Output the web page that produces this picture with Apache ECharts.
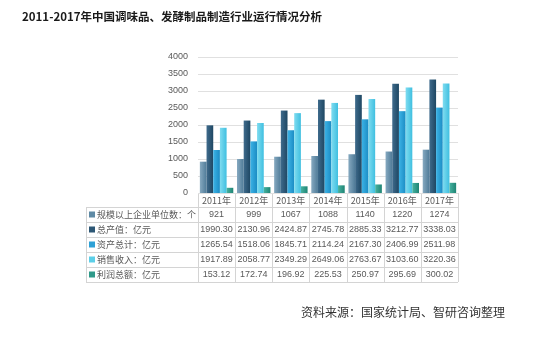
<!DOCTYPE html>
<html><head><meta charset="utf-8">
<script src="https://cdn.jsdelivr.net/npm/echarts@6/dist/echarts.min.js"></script>
<style>html,body{margin:0;padding:0;background:#fff}#c{width:542px;height:358px}</style>
</head><body><div id="c"></div>
<script>
const categories = ['2011年','2012年','2013年','2014年','2015年','2016年','2017年'];
const seriesNames = ['规模以上企业单位数：个','总产值：亿元','资产总计：亿元','销售收入：亿元','利润总额：亿元'];
const units = [921,999,1067,1088,1140,1220,1274];
const output = [1990.30,2130.96,2424.87,2745.78,2885.33,3212.77,3338.03];
const assets = [1265.54,1518.06,1845.71,2114.24,2167.30,2406.99,2511.98];
const sales = [1917.89,2058.77,2349.29,2649.06,2763.67,3103.60,3220.36];
const profit = [153.12,172.74,196.92,225.53,250.97,295.69,300.02];
const yTicks = [0,500,1000,1500,2000,2500,3000,3500,4000];
const titleText = '2011-2017年中国调味品、发酵制品制造行业运行情况分析';
const sourceText = '资料来源：国家统计局、智研咨询整理';

const allData = [units, output, assets, sales, profit];
const colors = [
  ['#86a9c0','#4f7b98'],
  ['#3f6b8c','#1e4763'],
  ['#3cb3e6','#1b8cc4'],
  ['#7fdcf0','#3fbfe0'],
  ['#47b3a0','#1f8474']
];
const legendColors = ['#5f8aa5','#2d5775','#2ea1d6','#5ccfe8','#2f9a8a'];

const G = {left:198, right:84, top:57, bottom:165};
const W = 542, H = 358;
const plotL = G.left, plotR = W - G.right, plotB = H - G.bottom;
const colW = (plotR - plotL) / categories.length;
const tblL = 86, headTop = plotB, rowH = 15, headH = 14;
const tblTop = headTop + headH;
const tblBottom = tblTop + rowH * allData.length;

const graphics = [];
const lineStyle = {stroke:'#d4d4d4', lineWidth:1};
for (let r = 0; r <= allData.length; r++) {
  const y = Math.round(tblTop + r*rowH) + 0.5;
  graphics.push({type:'line', shape:{x1:tblL, y1:y, x2:plotR, y2:y}, style:lineStyle, silent:true});
}
for (let c = 0; c <= categories.length; c++) {
  const x = Math.round(plotL + c*colW) + 0.5;
  graphics.push({type:'line', shape:{x1:x, y1:headTop, x2:x, y2:tblBottom}, style:lineStyle, silent:true});
}
graphics.push({type:'line', shape:{x1:tblL+0.5, y1:tblTop, x2:tblL+0.5, y2:tblBottom}, style:lineStyle, silent:true});
allData.forEach((arr, r) => {
  const yc = tblTop + r*rowH + rowH/2;
  graphics.push({type:'rect', shape:{x:tblL+3, y:yc-3, width:6, height:6}, style:{fill:legendColors[r]}, silent:true});
  graphics.push({type:'text', x:tblL+11, y:yc, style:{text:seriesNames[r], fill:'#595959', font:'9px "Noto Sans CJK SC", sans-serif', textVerticalAlign:'middle', verticalAlign:'middle'}, silent:true});
  arr.forEach((v, c) => {
    const txt = r === 0 ? String(v) : v.toFixed(2);
    graphics.push({type:'text', x:plotL + c*colW + colW/2, y:yc, style:{text:txt, fill:'#595959', font:'9px "Liberation Sans", sans-serif', align:'center', textAlign:'center', verticalAlign:'middle', textVerticalAlign:'middle'}, silent:true});
  });
});
graphics.push({type:'text', left:22, top:11, style:{text:titleText, fill:'#1a1a1a', font:'bold 11.5px "Noto Sans CJK SC", sans-serif'}});
graphics.push({type:'text', left:301, top:306, style:{text:sourceText, fill:'#333', font:'12px "Noto Sans CJK SC", sans-serif'}});

const chart = echarts.init(document.getElementById('c'));
chart.setOption({
  animation:false,
  grid:{left:G.left, right:G.right, top:G.top, bottom:G.bottom},
  xAxis:{type:'category', data:categories,
    axisLine:{show:false}, axisTick:{show:false},
    axisLabel:{interval:0, color:'#595959', fontSize:9, margin:3, fontFamily:'"Noto Sans CJK SC", sans-serif'}},
  yAxis:{type:'value', min:0, max:4000, interval:500,
    axisLabel:{color:'#595959', fontSize:9, margin:10, fontFamily:'"Liberation Sans", sans-serif',
      formatter: v => yTicks.includes(v) ? String(v) : ''},
    splitLine:{lineStyle:{color:'#e0e0e0'}}, axisLine:{show:false}, axisTick:{show:false}},
  series: allData.map((arr, i) => ({
    type:'bar', name:seriesNames[i], data:arr, barGap:'0%', barCategoryGap:'10%',
    itemStyle:{color:new echarts.graphic.LinearGradient(0,0,1,0,[{offset:0,color:colors[i][0]},{offset:1,color:colors[i][1]}])}
  })),
  graphic:graphics
});
</script></body></html>
